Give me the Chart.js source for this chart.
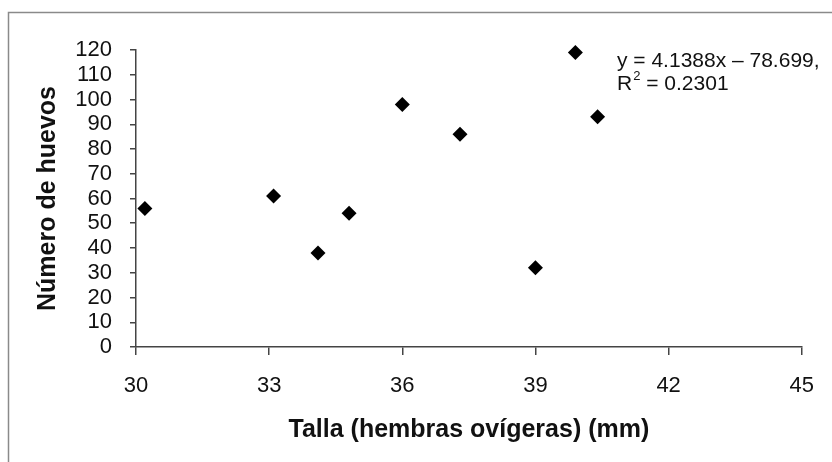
<!DOCTYPE html>
<html>
<head>
<meta charset="utf-8">
<script src="https://cdn.jsdelivr.net/npm/chart.js@4"></script>
<style>
  html, body { margin: 0; padding: 0; background: #fff; }
  #wrap { width: 832px; height: 462px; }
</style>
</head>
<body>
<div id="wrap"><canvas id="chart" width="832" height="462"></canvas></div>
<script>
// talla (mm) vs numero de huevos
const tallas = [30.2, 33.1, 34.1, 34.8, 36.0, 37.3, 39.0, 39.9, 40.4];
const huevos = [56, 61, 38, 54, 98, 86, 32, 119, 93];

const xTicks = [30, 33, 36, 39, 42, 45];
const yTicks = [0, 10, 20, 30, 40, 50, 60, 70, 80, 90, 100, 110, 120];

const ecuacion = 'y = 4.1388x \u2013 78.699,';
const r2Valor = ' = 0.2301';

const points = tallas.map((t, i) => ({ x: t, y: huevos[i] }));

// gray frame of the scanned figure + regression label
const framePlugin = {
  id: 'frame',
  beforeDraw(chart) {
    const ctx = chart.ctx;
    ctx.save();
    ctx.fillStyle = '#fff';
    ctx.fillRect(0, 0, chart.width, chart.height);
    ctx.strokeStyle = '#8a8a8a';
    ctx.lineWidth = 1.5;
    ctx.beginPath();
    ctx.moveTo(832, 12.5);
    ctx.lineTo(8.5, 12.5);
    ctx.lineTo(8.5, 462);
    ctx.stroke();
    ctx.restore();
  },
  afterDraw(chart) {
    const ctx = chart.ctx;
    ctx.save();
    ctx.fillStyle = '#111';
    ctx.textBaseline = 'middle';
    ctx.textAlign = 'left';
    ctx.font = '21px "Liberation Sans", Arial, sans-serif';
    const x0 = 617;
    ctx.fillText(ecuacion, x0, 61);
    ctx.fillText('R', x0, 84);
    const rw = ctx.measureText('R').width;
    ctx.font = '13px "Liberation Sans", Arial, sans-serif';
    ctx.fillText('2', x0 + rw + 1, 76);
    const sw = ctx.measureText('2').width;
    ctx.font = '21px "Liberation Sans", Arial, sans-serif';
    ctx.fillText(r2Valor, x0 + rw + sw + 1, 84);
    ctx.restore();
  }
};

new Chart(document.getElementById('chart'), {
  type: 'scatter',
  data: {
    datasets: [{
      label: 'Huevos',
      data: points,
      pointStyle: 'rectRot',
      pointRadius: 7.5,
      pointHoverRadius: 7.5,
      backgroundColor: '#000',
      borderColor: '#000',
      borderWidth: 0,
      clip: false
    }]
  },
  options: {
    responsive: false,
    animation: false,
    layout: { padding: { top: 50, right: 23, left: 0, bottom: 0 } },
    plugins: {
      legend: { display: false },
      tooltip: { enabled: false }
    },
    scales: {
      x: {
        type: 'linear',
        min: 30,
        max: 45,
        afterFit(scale) { scale.height = 115; },
        afterBuildTicks(scale) { scale.ticks = xTicks.map(v => ({ value: v })); },
        border: { display: true, color: '#444', width: 1.5 },
        grid: { drawOnChartArea: false, drawTicks: true, tickLength: 8, color: '#444', lineWidth: 1.5 },
        ticks: {
          color: '#111',
          padding: 18,
          autoSkip: false,
          maxRotation: 0,
          font: { family: '"Liberation Sans", Arial, sans-serif', size: 22 }
        },
        title: {
          display: true,
          text: 'Talla (hembras ovígeras) (mm)',
          color: '#111',
          padding: { top: 0, bottom: 17 },
          font: { family: '"Liberation Sans", Arial, sans-serif', size: 25, weight: 'bold' }
        }
      },
      y: {
        min: 0,
        max: 120,
        afterFit(scale) { scale.width = 136; },
        afterBuildTicks(scale) { scale.ticks = yTicks.map(v => ({ value: v })); },
        border: { display: true, color: '#444', width: 1.5 },
        grid: { drawOnChartArea: false, drawTicks: true, tickLength: 6, color: '#444', lineWidth: 1.5 },
        ticks: {
          color: '#111',
          padding: 18,
          autoSkip: false,
          font: { family: '"Liberation Sans", Arial, sans-serif', size: 22 }
        },
        title: {
          display: true,
          text: 'Número de huevos',
          color: '#111',
          padding: { top: 33, bottom: 0 },
          font: { family: '"Liberation Sans", Arial, sans-serif', size: 25, weight: 'bold' }
        }
      }
    }
  },
  plugins: [framePlugin]
});
</script>
</body>
</html>
